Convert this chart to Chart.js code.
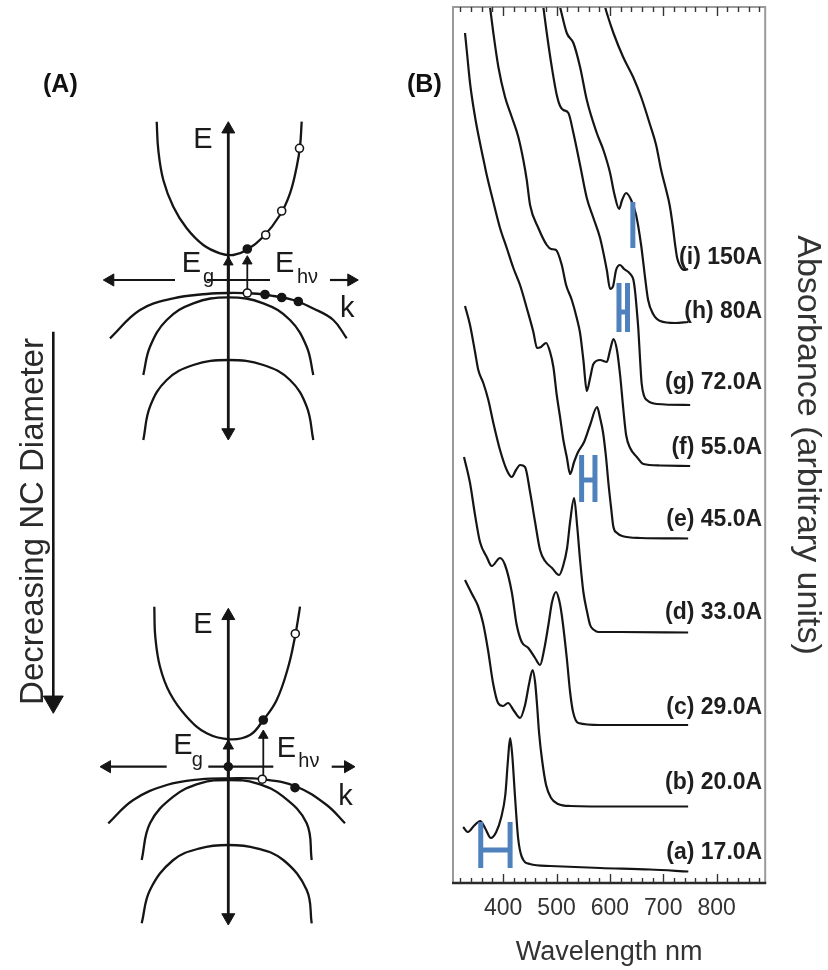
<!DOCTYPE html>
<html><head><meta charset="utf-8">
<script src="https://cdn.jsdelivr.net/npm/chart.js@4.4.1/dist/chart.umd.min.js"></script>
<style>
html,body{margin:0;padding:0;background:#fff;}
#wrap{position:relative;width:828px;height:970px;overflow:hidden;background:#fff;}
#cA{position:absolute;left:0;top:0;}
#cB{position:absolute;left:430px;top:0;}
.plabel{position:absolute;font:bold 25px "Liberation Sans",Arial,sans-serif;color:#111;line-height:1;white-space:nowrap;}
</style></head><body>
<div id="wrap">
<canvas id="cA" width="430" height="970"></canvas>
<canvas id="cB" width="398" height="970"></canvas>
<div class="plabel" style="left:43px;top:71px">(A)</div>
<div class="plabel" style="left:407px;top:71px">(B)</div>
</div>
<script>
// ================= PANEL B DATA (wavelength nm, absorbance a.u. with offsets) =================
const tickLabels = [400, 500, 600, 700, 800];
const curveLabels = ['(a) 17.0A','(b) 20.0A','(c) 29.0A','(d) 33.0A','(e) 45.0A','(f) 55.0A','(g) 72.0A','(h) 80A','(i) 150A'];

const wl_a  = [325,334,345,357,366,377,387,396,404,409,413,417,422,428,435,450,488,582,675,747];
const abs_a = [0.56,0.51,0.57,0.62,0.55,0.45,0.51,0.65,0.88,1.23,1.45,1.28,0.88,0.45,0.26,0.19,0.17,0.15,0.135,0.115];

const wl_b  = [328.5,341.6,352.9,362.3,371.6,381,390.4,399.8,409.1,420.4,431.6,441,448.5,455.1,459.8,463.5,467.3,472.9,480.4,489.8,502.9,525.4,619.1,746.6];
const abs_b = [3.03,2.89,2.77,2.60,2.33,2.00,1.80,1.77,1.80,1.72,1.65,1.78,1.99,2.13,2.01,1.78,1.50,1.23,0.98,0.85,0.79,0.77,0.765,0.765];

const wl_c  = [326.6,337.9,347.3,356.6,369.2,378.6,394.1,403.5,416.1,425.4,434.8,447.2,459.8,469.1,476.6,484.7,491.6,499.1,504.8,509.8,519.2,525.4,531,540.9,581.6,746.6];
const abs_c = [4.26,4.00,3.68,3.41,3.26,3.17,3.25,3.18,2.91,2.58,2.41,2.35,2.25,2.18,2.33,2.58,2.81,2.91,2.83,2.68,2.25,1.91,1.71,1.60,1.58,1.58];

const wl_d  = [328.5,337.9,347.3,353.4,362.8,372.2,381.6,394.1,406.7,416.1,424.1,431.6,441,450.4,459.8,469.1,478.5,491.6,504.8,512.3,519.8,525.4,532.9,538.5,544.1,550.3,557.3,562.9,570.4,578.4,619.1,746.6];
const abs_d = [5.77,5.58,5.31,5.13,5.00,4.83,4.60,4.33,4.13,4.06,4.13,4.18,4.16,3.91,3.61,3.33,3.22,3.15,3.08,3.17,3.35,3.61,3.85,3.58,3.23,2.91,2.71,2.58,2.53,2.51,2.51,2.505];

const wl_e  = [328.5,331.7,337.9,347.3,356.6,366,369.2,381.6,394.1,406.7,419.1,431.6,444.2,456.6,463.5,471,480.4,487.9,494.1,500.4,506.6,512.8,519.2,525.4,532.9,540.4,551.6,562.9,576,581.6,587.3,592.9,597.2,602.3,606.6,613.5,622.9,656.6,746.6];
const abs_e = [8.50,8.33,8.00,7.66,7.40,7.16,7.08,6.81,6.55,6.35,6.15,5.98,5.75,5.51,5.35,5.36,5.40,5.31,5.16,4.88,4.66,4.43,4.26,4.09,4.21,4.31,4.41,4.58,4.76,4.65,4.50,4.25,4.00,3.75,3.56,3.50,3.47,3.45,3.445];

const wl_f  = [375.4,381.6,391,403.5,416.1,428.4,437.8,444.2,450.4,465.9,481.7,489.8,499.1,509.8,517.9,528.6,537.9,544.1,550.3,556.7,562.9,569.1,581.6,594.2,600.4,606.6,613.2,619.1,625.3,630.4,637.9,650.4,662.8,694.1,750.4];
const abs_f = [8.76,8.50,8.16,7.86,7.66,7.46,7.23,7.03,6.78,6.55,6.38,6.34,6.33,6.18,5.98,5.83,5.65,5.50,5.23,4.92,5.05,5.19,5.23,5.21,5.33,5.44,5.33,5.08,4.73,4.48,4.35,4.26,4.19,4.175,4.17];

const wl_g  = [475.3,481.7,491.1,500.4,506.6,512.8,522.2,531.6,544.1,556.7,569.1,581.6,594.2,600.4,606,611.6,619.1,626.6,634.7,641.1,644.1,647.3,650.4,653.4,656.6,659.4,664.1,669.2,687.9,750.4];
const abs_g = [8.76,8.50,8.16,7.88,7.77,7.73,7.70,7.50,7.18,6.85,6.65,6.45,6.13,5.94,5.97,6.13,6.18,6.14,6.11,6.07,6.03,5.91,5.73,5.53,5.23,5.00,4.87,4.83,4.79,4.78];

const wl_h  = [506.6,519.2,531.6,544.1,556.7,575.4,587.8,600.4,607.9,617.3,622.9,630.4,639.8,649.1,658.5,666,671.6,681,694.1,722.3,746.6];
const abs_h = [8.76,8.50,8.40,8.16,7.83,7.50,7.33,7.10,6.90,6.74,6.83,6.90,6.83,6.68,6.38,6.05,5.83,5.69,5.62,5.60,5.61];

const wl_i  = [591,594.2,606.6,624.8,643.5,658.5,675.4,686.6,696,705.4,711.9,717.6,722.3,726,731.6,739.1,746.6];
const abs_i = [8.76,8.70,8.50,8.26,8.06,7.86,7.58,7.38,7.13,6.93,6.78,6.58,6.38,6.25,6.17,6.13,6.14];

// blue "H"/"I" peak-width markers
const markerLeftWl    = [358, 547, 617, 643];
const markerRightWl   = [413, 572, 633, 643];
const markerTopAbs    = [0.61, 4.28, 6.00, 6.81];
const markerBottomAbs = [0.15, 3.81, 5.51, 6.35];
const markerMidAbs    = [0.33, 4.03, 5.71, 6.58];

// ================= PANEL A DATA (schematic k, E units) =================
const topCB_k  = [-7.16,-7.0,-6.5,-5.5,-4.16,-2.5,-0.83,0.5,1.84,3.5,5.17,6.17,6.84,7.17,7.34];
const topCB_E  = [15.83,13.0,10.0,7.33,5.17,3.5,2.67,2.5,3.0,4.33,6.5,8.67,11.33,13.33,15.83];
const topVB1_k = [-11.83,-8.83,-5.5,-2.16,0,2.5,4.5,6.5,8.5,10.5,11.84];
const topVB1_E = [-5.83,-3.0,-1.83,-1.4,-1.3,-1.35,-1.6,-2.0,-2.85,-4.0,-5.83];
const topVB2_k = [-8.5,-7.83,-6.16,-3.5,0,3.5,6.17,7.84,8.5];
const topVB2_E = [-9.5,-6.67,-4.0,-2.33,-1.73,-2.33,-4.0,-6.67,-9.5];
const topVB3_k = [-8.5,-7.83,-6.16,-3.5,0,3.5,6.17,7.84,8.5];
const topVB3_E = [-16.0,-12.67,-10.0,-8.5,-8.0,-8.5,-10.0,-12.67,-16.0];
const topOpen_k = [7.12,5.34,3.74,1.9];
const topOpen_E = [13.17,6.9,4.5,-1.3];
const topFill_k = [1.9,3.67,5.34,7.0];
const topFill_E = [3.1,-1.45,-1.75,-2.15];

const botCB_k  = [-7.4,-7.3,-6.83,-5.83,-4.16,-2.16,0.17,2.17,3.5,4.84,6.0,6.67,7.07,7.17];
const botCB_E  = [16.0,13.0,10.0,7.34,5.0,3.34,2.74,3.17,4.67,6.67,10.0,13.0,15.34,16.0];
const botVB1_k = [-12.0,-9.5,-6.16,-2.83,0,3.5,6.84,9.84,11.67];
const botVB1_E = [-5.66,-3.33,-1.83,-1.26,-1.16,-1.26,-2.0,-3.83,-5.66];
const botVB2_k = [-8.66,-7.83,-5.5,-2.83,0,2.84,5.5,7.84,8.34];
const botVB2_E = [-9.33,-5.66,-3.0,-1.66,-1.33,-1.66,-3.0,-5.66,-9.33];
const botVB3_k = [-8.66,-7.83,-5.5,-2.83,0,2.84,5.5,7.84,8.34];
const botVB3_E = [-15.66,-12.33,-9.33,-8.16,-7.83,-8.16,-9.33,-12.33,-15.66];
const botOpen_k = [6.7,3.4];
const botOpen_E = [13.3,-1.25];
const botFill_k = [3.5,6.67,0];
const botFill_E = [4.67,-2.1,0];

// arrows: [k start, E start, k tip, E tip, head at start, head at tip]
const topArrows = [[0,-16.0,0,15.83,1,1],[-5.33,0,-12.5,0,0,1],[-2.16,0,4.17,0,0,0],[10.17,0,13.0,0,0,1],[0,-1.3,0,2.33,0,1],[1.9,-1.3,1.9,2.43,0,1]];
const botArrows = [[0,-15.83,0,15.84,1,1],[-6.16,0,-12.83,0,0,1],[-2.0,0,4.5,0,0,0],[10.34,0,12.67,0,0,1],[0,-1.16,0,2.67,0,1],[3.5,-1.2,3.5,3.67,0,1]];
const sizeArrow = [-17.5,-5.17,-17.5,-43.33];

const INK = '#151515';
Chart.defaults.font.family = '"Liberation Sans", Arial, Helvetica, sans-serif';
Chart.defaults.animation = false;
Chart.defaults.plugins.legend.display = false;
Chart.defaults.plugins.tooltip.enabled = false;

// ---------------- Panel A ----------------
function pts(ks, es){ return ks.map((k,i)=>({x:k, y:es[i]})); }
function curveA(ks, es, axis){
  return {data:pts(ks,es), yAxisID:axis, showLine:true, pointRadius:0, borderColor:INK, borderWidth:2.3, tension:0.4, fill:false, clip:false};
}
function arrowA(a, axis, r, w){
  const [k1,E1,k2,E2,h1,h2] = a;
  const dk=k2-k1, dE=E2-E1, L=Math.hypot(dk,dE), uk=dk/L, uE=dE/L;
  const r1 = h1? r:0, r2 = h2? r:0;
  const s = {x:k1+uk*r1/10, y:E1+uE*r1/10};
  const e = {x:k2-uk*r2/10, y:E2-uE*r2/10};
  const rot = Math.atan2(uk,uE)*180/Math.PI;
  return {data:[s,e], yAxisID:axis, showLine:true, borderColor:INK, borderWidth:w, tension:0,
    pointRadius:[r1,r2], pointStyle:'triangle', pointRotation:[rot+180,rot],
    pointBackgroundColor:INK, pointBorderColor:INK, pointBorderWidth:1, clip:false};
}
function dotsA(ks, es, axis, open){
  return {data:pts(ks,es), yAxisID:axis, showLine:false, pointRadius:4, pointStyle:'circle',
    pointBackgroundColor: open?'#fff':INK, pointBorderColor:INK, pointBorderWidth:1.6, clip:false, order:-1};
}
const dsA = [
  curveA(topCB_k, topCB_E,'yTop'), curveA(topVB1_k, topVB1_E,'yTop'), curveA(topVB2_k, topVB2_E,'yTop'), curveA(topVB3_k, topVB3_E,'yTop'),
  curveA(botCB_k, botCB_E,'yBot'), curveA(botVB1_k, botVB1_E,'yBot'), curveA(botVB2_k, botVB2_E,'yBot'), curveA(botVB3_k, botVB3_E,'yBot'),
  arrowA(topArrows[0],'yTop',7.5,2.8), arrowA(topArrows[1],'yTop',7,2.2), arrowA(topArrows[2],'yTop',0,2.2), arrowA(topArrows[3],'yTop',7,2.2), arrowA(topArrows[4],'yTop',5.5,2.8), arrowA(topArrows[5],'yTop',5.5,1.8),
  arrowA(botArrows[0],'yBot',7.5,2.8), arrowA(botArrows[1],'yBot',7,2.2), arrowA(botArrows[2],'yBot',0,2.2), arrowA(botArrows[3],'yBot',7,2.2), arrowA(botArrows[4],'yBot',6,2.8), arrowA(botArrows[5],'yBot',5.5,1.8),
  arrowA([sizeArrow[0],sizeArrow[1],sizeArrow[2],sizeArrow[3],0,1],'yTop',11.5,2.6),
  dotsA(topOpen_k, topOpen_E,'yTop',true), dotsA(topFill_k, topFill_E,'yTop',false),
  dotsA(botOpen_k, botOpen_E,'yBot',true), dotsA(botFill_k, botFill_E,'yBot',false)
];
const textA = [
  {t:'E', k:-3.5, E:13.17, ax:'yTop', s:29}, {t:'E', k:-4.66, E:0.85, ax:'yTop', s:29}, {t:'g', k:-2.53, E:-0.3, ax:'yTop', s:20},
  {t:'E', k:4.67, E:0.85, ax:'yTop', s:29}, {t:'hν', k:6.87, E:-0.3, ax:'yTop', s:20}, {t:'k', k:11.17, E:-3.67, ax:'yTop', s:29},
  {t:'E', k:-3.5, E:13.34, ax:'yBot', s:29}, {t:'E', k:-5.5, E:1.3, ax:'yBot', s:29}, {t:'g', k:-3.66, E:0.07, ax:'yBot', s:20},
  {t:'E', k:4.84, E:1.0, ax:'yBot', s:29}, {t:'hν', k:7.0, E:0.0, ax:'yBot', s:20}, {t:'k', k:11.0, E:-3.83, ax:'yBot', s:29}
];
const textPluginA = {
  id:'textA',
  afterDatasetsDraw(chart){
    const c = chart.ctx, X = chart.scales.x;
    c.save();
    c.fillStyle = '#1a1a1a'; c.textAlign='left'; c.textBaseline='alphabetic';
    textA.forEach(o=>{
      c.font = o.s+'px "Liberation Sans", Arial, sans-serif';
      c.fillText(o.t, X.getPixelForValue(o.k), chart.scales[o.ax].getPixelForValue(o.E));
    });
    // rotated caption beside the size arrow
    const px = X.getPixelForValue(-18.53), py = chart.scales.yTop.getPixelForValue(-24.15);
    c.translate(px, py); c.rotate(-Math.PI/2);
    c.fillStyle = '#2a2a2a'; c.textAlign='center';
    c.font = '33px "Liberation Sans", Arial, sans-serif';
    c.fillText('Decreasing NC Diameter', 0, 0);
    c.restore();
  }
};
new Chart(document.getElementById('cA'), {
  type:'scatter',
  data:{datasets:dsA},
  options:{
    responsive:false, devicePixelRatio:1, animation:false,
    layout:{padding:0, autoPadding:false},
    scales:{
      x:{type:'linear', display:false, min:-22.83, max:20.17},
      yTop:{type:'linear', axis:'y', display:false, min:-69, max:28},
      yBot:{type:'linear', axis:'y', display:false, min:-20.33, max:76.67}
    },
    plugins:{legend:{display:false}, tooltip:{enabled:false}}
  },
  plugins:[textPluginA]
});

// ---------------- Panel B ----------------
const waveSeries = [wl_a, wl_b, wl_c, wl_d, wl_e, wl_f, wl_g, wl_h, wl_i];
const absSeries  = [abs_a, abs_b, abs_c, abs_d, abs_e, abs_f, abs_g, abs_h, abs_i];
const labelLift  = [18.5, 23.5, 17, 19.5, 18.5, 18, 22, 10, 11]; // px above curve tail

const curveDs = waveSeries.map((w,i)=>({
  label: curveLabels[i],
  data: w.map((x,j)=>({x:x, y:absSeries[i][j]})),
  showLine:true, pointRadius:0, borderColor:INK, borderWidth:2.2,
  cubicInterpolationMode:'monotone', fill:false
}));
const markerDs = markerLeftWl.map((L,i)=>{
  const R = markerRightWl[i], T = markerTopAbs[i], B = markerBottomAbs[i], M = markerMidAbs[i];
  const d = [{x:L,y:T},{x:L,y:B}];
  if (R !== L) d.push({x:L,y:null},{x:R,y:T},{x:R,y:B},{x:R,y:null},{x:L,y:M},{x:R,y:M});
  return {label:'marker'+i, data:d, showLine:true, spanGaps:false, pointRadius:0, borderColor:'#4f81bd',
    borderWidth:5, borderCapStyle:'butt', tension:0, order:-1};
});

const framePluginB = {
  id:'frameB',
  afterDatasetsDraw(chart){
    const c = chart.ctx, a = chart.chartArea, X = chart.scales.x, Y = chart.scales.y;
    c.save();
    // frame
    c.lineWidth = 2; c.strokeStyle = '#9a9a9a';
    c.beginPath(); c.moveTo(a.left, a.bottom); c.lineTo(a.left, a.top); c.lineTo(a.right, a.top); c.lineTo(a.right, a.bottom); c.stroke();
    c.strokeStyle = '#2a2a2a'; c.lineWidth = 2.4;
    c.beginPath(); c.moveTo(a.left-1, a.bottom); c.lineTo(a.right+1, a.bottom); c.stroke();
    // inward ticks every 20 nm, long every 100 nm
    c.lineWidth = 1.4; c.strokeStyle = '#333';
    for (let v = 320; v <= 880; v += 20){
      const px = Math.round(X.getPixelForValue(v)) + 0.5;
      const len = (v % 100 === 0) ? 9 : 5;
      c.beginPath(); c.moveTo(px, a.bottom); c.lineTo(px, a.bottom - len); c.stroke();
      c.beginPath(); c.moveTo(px, a.top); c.lineTo(px, a.top + len); c.stroke();
    }
    // curve labels
    c.fillStyle = '#1e1e1e'; c.textAlign = 'right'; c.textBaseline = 'middle';
    c.font = 'bold 23px "Liberation Sans", Arial, sans-serif';
    curveLabels.forEach((t,i)=>{
      const tail = absSeries[i][absSeries[i].length-1];
      c.fillText(t, a.right - 3, Y.getPixelForValue(tail) - labelLift[i]);
    });
    c.restore();
  }
};

new Chart(document.getElementById('cB'), {
  type:'scatter',
  data:{datasets:[...markerDs, ...curveDs]},
  options:{
    responsive:false, devicePixelRatio:1, animation:false,
    layout:{padding:{left:23, top:7, right:0, bottom:0}, autoPadding:false},
    scales:{
      x:{type:'linear', position:'bottom', min:306, max:891,
        afterBuildTicks:(s)=>{ s.ticks = tickLabels.map(v=>({value:v})); },
        grid:{display:false, drawTicks:false}, border:{display:false},
        ticks:{color:'#333', padding:12, font:{size:23}, maxRotation:0, autoSkip:false},
        title:{display:true, text:'Wavelength nm', color:'#333', font:{size:27}, padding:{top:2, bottom:1}}
      },
      y:{type:'linear', position:'right', min:0, max:8.76,
        grid:{display:false, drawTicks:false}, border:{display:false},
        ticks:{display:false},
        title:{display:true, text:'Absorbance (arbitrary units)', color:'#333', font:{size:34}, padding:{top:0, bottom:22}}
      }
    },
    plugins:{legend:{display:false}, tooltip:{enabled:false}}
  },
  plugins:[framePluginB]
});
</script>
</body></html>
